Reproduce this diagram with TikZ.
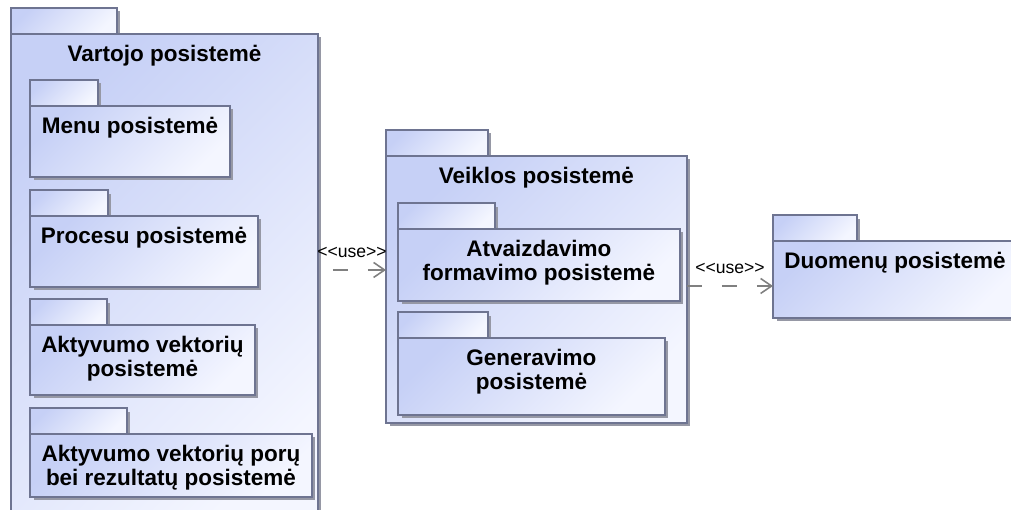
\documentclass[tikz,border=0pt]{standalone}
\usepackage{fontspec}
\setmainfont{Liberation Sans}
\usetikzlibrary{arrows.meta,positioning,shadows}
\definecolor{pkgline}{RGB}{110,116,145}
\definecolor{pkgfill}{RGB}{198,208,246}
\definecolor{pkglight}{RGB}{244,246,255}
\definecolor{pkgshadow}{RGB}{150,152,165}
\definecolor{usegray}{RGB}{128,128,128}

\begin{document}
\begin{tikzpicture}[x=0.02cm,y=-0.02cm,
    pkg/.style={draw=pkgline,line width=0.8pt,top color=pkgfill,bottom color=pkglight,shading angle=45,
      drop shadow={shadow xshift=0.07cm,shadow yshift=-0.07cm,fill=pkgshadow,opacity=1},
      inner sep=0,outer sep=0},
    pkgtab/.style={pkg,anchor=north west,minimum height=0.52cm},
    pkgbody/.style={pkg},
    title/.style={font=\fontsize{12.8}{13.8}\selectfont\bfseries,align=center,inner sep=0,anchor=north,yshift=-0.22cm},
    usedep/.style={draw=usegray,line width=0.9pt,dash pattern=on 8.5pt off 11.4pt,-{Straight Barb[length=0.22cm,width=0.3cm]}},
    uselabel/.style={font=\fontsize{10}{11}\selectfont,inner sep=0,above=0.24cm}]
    \useasboundingbox (0,0) rectangle (1011,510);

    \node[pkgtab,minimum width=2.12cm] (vartojo-tab) at (11,8) {};
    \node[pkgbody,minimum width=6.14cm,minimum height=9.92cm,below right=0cm and 0cm of vartojo-tab.south west] (vartojo) {};
    \node[title] (vartojo-t) at (vartojo.north) {Vartojo posistemė};

    \node[pkgtab,minimum width=1.36cm] (menu-tab) at (30,80) {};
    \node[pkgbody,minimum width=4cm,minimum height=1.42cm,below right=0cm and 0cm of menu-tab.south west] (menu) {};
    \node[title] (menu-t) at (menu.north) {Menu posistemė};

    \node[pkgtab,minimum width=1.56cm] (procesu-tab) at (30,190) {};
    \node[pkgbody,minimum width=4.56cm,minimum height=1.42cm,below right=0cm and 0cm of procesu-tab.south west] (procesu) {};
    \node[title] (procesu-t) at (procesu.north) {Procesu posistemė};

    \node[pkgtab,minimum width=1.54cm] (akt-tab) at (30,299) {};
    \node[pkgbody,minimum width=4.5cm,minimum height=1.4cm,below right=0cm and 0cm of akt-tab.south west] (akt) {};
    \node[title] (akt-t) at (akt.north) {Aktyvumo vektorių\\posistemė};

    \node[pkgtab,minimum width=1.94cm] (aktpor-tab) at (30,408) {};
    \node[pkgbody,minimum width=5.64cm,minimum height=1.26cm,below right=0cm and 0cm of aktpor-tab.south west] (aktpor) {};
    \node[title] (aktpor-t) at (aktpor.north) {Aktyvumo vektorių porų\\bei rezultatų posistemė};

    \node[pkgtab,minimum width=2.04cm] (veiklos-tab) at (386,130) {};
    \node[pkgbody,minimum width=6.02cm,minimum height=5.34cm,below right=0cm and 0cm of veiklos-tab.south west] (veiklos) {};
    \node[title] (veiklos-t) at (veiklos.north) {Veiklos posistemė};

    \node[pkgtab,minimum width=1.94cm] (atv-tab) at (398,203) {};
    \node[pkgbody,minimum width=5.64cm,minimum height=1.44cm,below right=0cm and 0cm of atv-tab.south west] (atv) {};
    \node[title] (atv-t) at (atv.north) {Atvaizdavimo\\formavimo posistemė};

    \node[pkgtab,minimum width=1.8cm] (gen-tab) at (398,312) {};
    \node[pkgbody,minimum width=5.34cm,minimum height=1.54cm,below right=0cm and 0cm of gen-tab.south west] (gen) {};
    \node[title] (gen-t) at (gen.north) {Generavimo\\posistemė};

    \node[pkgtab,minimum width=1.68cm] (duom-tab) at (773,215) {};
    \node[pkgbody,minimum width=4.88cm,minimum height=1.54cm,below right=0cm and 0cm of duom-tab.south west] (duom) {};
    \node[title] (duom-t) at (duom.north) {Duomenų posistemė};

    \path ([yshift=0.39cm]veiklos.west) coordinate (in-veiklos);
    \draw[usedep,dash phase=11.4pt] (vartojo.east |- in-veiklos) -- node[uselabel] (use-a) {{<}{<}use{>}{>}} (in-veiklos);
    \path ([yshift=-0.13cm]duom.west) coordinate (in-duom);
    \draw[usedep] (veiklos.east |- in-duom) -- node[uselabel] (use-b) {{<}{<}use{>}{>}} (in-duom);
\end{tikzpicture}
\end{document}
